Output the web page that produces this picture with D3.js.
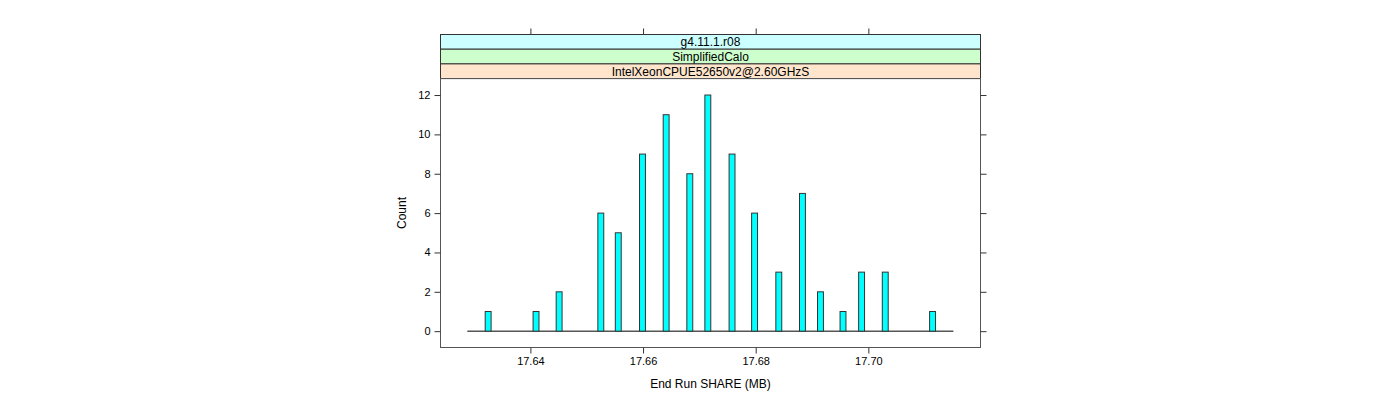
<!DOCTYPE html>
<html>
<head>
<meta charset="utf-8">
<script src="https://cdn.jsdelivr.net/npm/d3@7"></script>
<style>
  body { margin: 0; background: #fff; }
  svg { font-family: "Liberation Sans", Arial, Helvetica, sans-serif; }
</style>
</head>
<body>
<svg id="chart" width="1400" height="400"></svg>
<script>
// ---- data ----
const shareValues = [17.6325, 17.6410, 17.6451, 17.6525, 17.6556, 17.6599, 17.6641, 17.6683, 17.6715,
                     17.6758, 17.6798, 17.6841, 17.6883, 17.6915, 17.6955, 17.6988, 17.7030, 17.7114];
const counts      = [1, 1, 2, 6, 5, 9, 11, 8, 12, 9, 6, 3, 7, 2, 1, 3, 3, 1];
const breaksRange = [17.6288, 17.7151];
const binWidth = 0.00105;
const xTicks = [17.64, 17.66, 17.68, 17.70];
const yTicks = [0, 2, 4, 6, 8, 10, 12];
const strips = ["g4.11.1.r08", "SimplifiedCalo", "IntelXeonCPUE52650v2@2.60GHzS"];
const stripColors = ["#CCFFFF", "#CCFFCC", "#FFE5CC"];
const xLabel = "End Run SHARE (MB)";
const yLabel = "Count";

// ---- layout ----
const svg = d3.select("#chart");
const left = 440.5, right = 980.5, panelTop = 78.5, panelBottom = 347.5;
const stripTop = 34.5, stripH = 14.7;

const x = d3.scaleLinear().domain([17.62404, 17.71991]).range([left, right]);
const y = d3.scaleLinear().domain([-0.83, 12.84]).range([panelBottom, panelTop]);

// strips
strips.forEach((s, i) => {
  const y0 = stripTop + i * stripH;
  svg.append("rect").attr("x", left).attr("y", y0).attr("width", right - left).attr("height", stripH)
    .attr("fill", stripColors[i]).attr("stroke", "#333").attr("stroke-width", 1);
  svg.append("text").attr("x", (left + right) / 2).attr("y", y0 + stripH / 2 + 4.5)
    .attr("text-anchor", "middle").attr("font-size", 12).attr("fill", "#000").text(s);
});

// panel border
svg.append("rect").attr("x", left).attr("y", panelTop).attr("width", right - left).attr("height", panelBottom - panelTop)
  .attr("fill", "none").attr("stroke", "#555").attr("stroke-width", 1);

// axes
const axBottom = d3.axisBottom(x).tickValues(xTicks).tickFormat(d3.format(".2f")).tickSize(6).tickPadding(4);
const gB = svg.append("g").attr("transform", `translate(0,${panelBottom})`).call(axBottom);
const axTop = d3.axisTop(x).tickValues(xTicks).tickFormat("").tickSize(6);
const gT = svg.append("g").attr("transform", `translate(0,${stripTop})`).call(axTop);
const axLeft = d3.axisLeft(y).tickValues(yTicks).tickSize(6).tickPadding(4);
const gL = svg.append("g").attr("transform", `translate(${left},0)`).call(axLeft);
const axRight = d3.axisRight(y).tickValues(yTicks).tickFormat("").tickSize(6);
const gR = svg.append("g").attr("transform", `translate(${right},0)`).call(axRight);
[gB, gT, gL, gR].forEach(g => {
  g.select(".domain").remove();
  g.selectAll(".tick line").attr("stroke", "#333");
  g.selectAll(".tick text").attr("font-size", 11).attr("fill", "#000")
    .attr("font-family", "'Liberation Sans', Arial, sans-serif");
});

// baseline
svg.append("line").attr("x1", x(breaksRange[0])).attr("x2", x(breaksRange[1]))
  .attr("y1", y(0)).attr("y2", y(0)).attr("stroke", "#000").attr("stroke-width", 1);

// bars
svg.append("g").selectAll("rect").data(shareValues).join("rect")
  .attr("x", (d) => x(d - binWidth / 2))
  .attr("width", (d) => x(d + binWidth / 2) - x(d - binWidth / 2))
  .attr("y", (d, i) => y(counts[i]))
  .attr("height", (d, i) => y(0) - y(counts[i]))
  .attr("fill", "#00FFFF").attr("stroke", "#333").attr("stroke-width", 1);

// labels
svg.append("text").attr("x", (left + right) / 2).attr("y", 388).attr("text-anchor", "middle")
  .attr("font-size", 12).text(xLabel);
svg.append("text").attr("transform", `translate(406,${(panelTop + panelBottom) / 2}) rotate(-90)`)
  .attr("text-anchor", "middle").attr("font-size", 12).text(yLabel);
</script>
</body>
</html>
